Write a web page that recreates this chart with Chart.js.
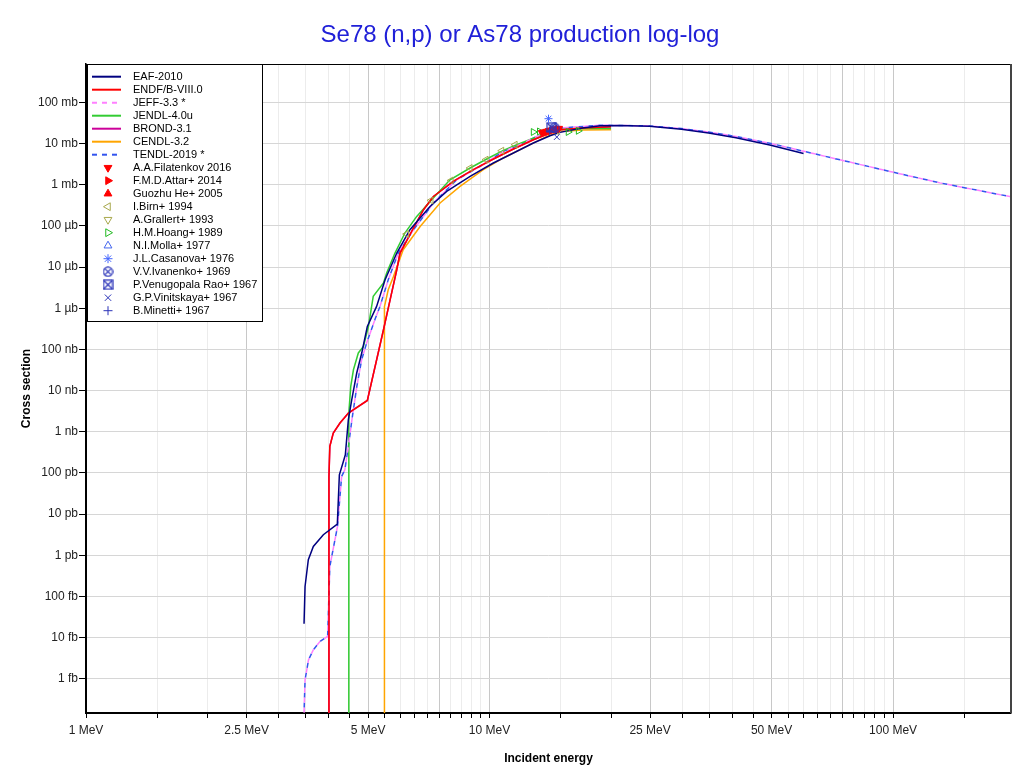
<!DOCTYPE html>
<html>
<head>
<meta http-equiv="Content-Type" content="text/html;charset=utf-8" />
<script src="https://cdn.jsdelivr.net/npm/chart.js@4.4.1/dist/chart.umd.min.js"></script>
<style>
  body { margin: 0; background: #fff; }
</style>
</head>
<body>
<canvas id="xs" width="1020" height="774"></canvas>
<script>
// energies in MeV, cross sections in mb

// EAF-2010
var eafE  = [3.47, 3.49, 3.556, 3.659, 3.874, 4.196, 4.245, 4.343, 4.392, 4.468, 4.555, 4.687, 4.823, 4.979,
             5.25, 5.51, 5.89, 6.35, 7.12, 7.83, 8.95, 10.22, 11.46, 12.84, 14.12, 14.95, 17, 18.8, 21,
             24.9, 29.9, 34.9, 40.8, 49.5, 60];
var eafXS = [2.16e-11, 1.74e-10, 7.76e-10, 1.63e-9, 3.14e-9, 5.71e-9, 9.0e-8, 1.9e-7, 2.76e-7, 1.95e-6, 5.98e-6, 2.67e-5, 8.15e-5, 3.61e-4,
             1.11e-3, 4.92e-3, 0.0219, 0.0807, 0.297, 0.689, 1.59, 3.37, 5.9, 10.3, 15.5, 18.7, 24, 27, 27.5,
             26.4, 22.2, 18.1, 13.9, 9.27, 5.77];

// ENDF/B-VIII.0
var endfE  = [4.0, 4.0, 4.02, 4.10, 4.26, 4.47, 4.98, 5.46, 5.67, 5.89, 6.0, 6.35, 6.86, 7.26, 8.13, 9.12,
              10.22, 11.46, 12.84, 14.12, 14.95, 17, 20];
var endfXS = [1e-15, 8.2e-8, 4.4e-7, 9.3e-7, 1.63e-6, 2.84e-6, 5.75e-6, 3.0e-4, 1.6e-3, 8.6e-3, 0.0219, 0.0611, 0.247, 0.52, 1.21, 2.32,
              4.22, 7.38, 12.4, 18.1, 21.7, 24, 25.6];

// JEFF-3.3 and TENDL-2019 (lie on top of each other)
var jeffE  = [3.47, 3.49, 3.56, 3.66, 3.80, 3.97, 4.02, 4.20, 4.30, 4.38, 4.47, 4.56, 4.69, 4.82, 4.96,
              5.20, 5.35, 5.61, 5.94, 6.48, 7.26, 8.29, 9.47, 10.82, 11.9, 13.09, 14.95, 18.8, 24.9,
              29.9, 34.9, 40.8, 49.5, 60.1, 75.9, 101.5, 130.6, 200];
var jeffXS = [1.5e-13, 9.4e-13, 2.88e-12, 5.05e-12, 8.0e-12, 1.07e-11, 5.33e-10, 5.0e-9, 8.2e-8, 1.19e-7, 4.4e-7, 1.95e-6, 1.26e-5, 5.6e-5, 1.43e-4,
              5.3e-4, 1.1e-3, 4.9e-3, 0.0219, 0.0807, 0.36, 1.32, 2.79, 6.45, 9.38, 14.9, 23.9, 27.9, 26.9,
              23.1, 19.1, 14.9, 10.2, 6.49, 3.79, 1.95, 1.11, 0.49];

// JENDL-4.0u
var jendlE  = [4.48, 4.48, 4.53, 4.60, 4.73, 4.87, 5.01, 5.15, 5.46, 5.56, 5.83, 6.17, 6.60, 7.19, 7.98,
               8.95, 9.84, 10.82, 11.68, 12.84, 13.86, 14.95, 17, 20];
var jendlXS = [1e-15, 2.84e-6, 1.26e-5, 3.2e-5, 8.2e-5, 1.18e-4, 3.6e-4, 1.94e-3, 4.1e-3, 7.2e-3, 0.0219, 0.0671, 0.17, 0.433, 1.32,
               2.55, 4.22, 6.82, 9.38, 13.5, 19.0, 22.0, 23.5, 23.1];

// BROND-3.1 (hidden under ENDF/B-VIII.0)
var brondE  = endfE;
var brondXS = endfXS;

// CENDL-3.2
var cendlE  = [5.49, 5.49, 5.61, 5.78, 6.11, 6.73, 7.54, 8.45, 9.65, 10.82, 12.36, 13.86, 14.95, 17, 20];
var cendlXS = [1e-15, 1.1e-3, 2.8e-3, 5.9e-3, 0.0264, 0.097, 0.36, 0.91, 2.32, 4.47, 8.53, 14.9, 19.7, 21.5, 21.7];

// experimental data
var filatE  = [13.47, 13.64, 13.82, 14.00, 14.19, 14.37, 14.55, 14.73, 14.87];
var filatXS = [18.5, 19.2, 19.8, 20.6, 21.3, 21.9, 22.5, 23.0, 23.4];
var attarE  = [14.8];
var attarXS = [22.5];
var heE     = [14.2, 14.6];
var heXS    = [21.0, 22.0];
var birnE   = [6.23, 7.16, 8.03, 8.95, 9.80, 10.72, 11.57];
var birnXS  = [0.0635, 0.416, 1.27, 2.55, 4.06, 6.71, 9.38];
var grallE  = [14.8];
var grallXS = [20.5];
var hoangE  = [12.84, 13.3, 15.67, 16.6];
var hoangXS = [19.1, 19.7, 19.1, 20.4];
var mollaE  = [14.7];
var mollaXS = [21.5];
var casaE   = [14.0];
var casaXS  = [40.2];
var ivanE   = [14.5];
var ivanXS  = [24];
var raoE    = [14.26];
var raoXS   = [24.7];
var viniE   = [14.68];
var viniXS  = [14.4];
var minE    = [14.1];
var minXS   = [20];

// axis ticks
var xTicks = [1, 1.5, 2, 2.5, 3, 3.5, 4, 4.5, 5, 5.5, 6, 6.5, 7, 7.5, 8, 8.5, 9, 9.5, 10,
              15, 20, 25, 30, 35, 40, 45, 50, 55, 60, 65, 70, 75, 80, 85, 90, 95, 100, 150];
var xMajor = [1, 2.5, 5, 7.5, 10, 25, 50, 75, 100];
var xLabeled = [1, 2.5, 5, 10, 25, 50, 100];
var yTicks = [1e-12, 1e-11, 1e-10, 1e-9, 1e-8, 1e-7, 1e-6, 1e-5, 1e-4, 1e-3, 1e-2, 1e-1, 1, 10, 100];
var yLabels = ['1 fb', '10 fb', '100 fb', '1 pb', '10 pb', '100 pb', '1 nb', '10 nb', '100 nb',
               '1 µb', '10 µb', '100 µb', '1 mb', '10 mb', '100 mb'];

var titleText = 'Se78 (n,p) or As78 production log-log';

function pts(e, s) {
    return e.map(function (v, i) { return { x: v, y: s[i] }; });
}

// little symbols for the circled and boxed crosses
function glyph(kind, color) {
    var c = document.createElement('canvas');
    c.width = 11; c.height = 11;
    var g = c.getContext('2d');
    g.strokeStyle = color;
    g.lineWidth = 1.2;
    if (kind == 'circle') {
        g.beginPath(); g.arc(5.5, 5.5, 4.6, 0, Math.PI * 2); g.stroke();
        g.beginPath(); g.moveTo(2.3, 2.3); g.lineTo(8.7, 8.7); g.moveTo(8.7, 2.3); g.lineTo(2.3, 8.7); g.stroke();
    } else {
        g.strokeRect(1, 1, 9, 9);
        g.beginPath(); g.moveTo(1, 1); g.lineTo(10, 10); g.moveTo(10, 1); g.lineTo(1, 10); g.stroke();
    }
    return c;
}

function curve(label, e, s, color, dash, order, dashOffset) {
    return {
        label: label, data: pts(e, s), showLine: true, borderColor: color, backgroundColor: color,
        borderWidth: 1.5, pointRadius: 0, borderDash: dash || [], borderDashOffset: dashOffset || 0, order: order
    };
}

function marks(label, e, s, style, color, fill, rot, order) {
    return {
        label: label, data: pts(e, s), showLine: false, pointStyle: style, rotation: rot || 0,
        borderColor: color, backgroundColor: fill, pointBorderWidth: 1, pointRadius: 4, order: order
    };
}

var olive = '#a8a84c';
var navyPt = '#2a33b8';

var datasets = [
    curve('EAF-2010', eafE, eafXS, '#000080', null, 20),
    curve('ENDF/B-VIII.0', endfE, endfXS, '#ff0000', null, 21),
    curve('JEFF-3.3 *', jeffE, jeffXS, '#ff80ff', [5, 5], 22),
    curve('JENDL-4.0u', jendlE, jendlXS, '#33cc33', null, 23),
    curve('BROND-3.1', brondE, brondXS, '#cc0099', null, 24),
    curve('CENDL-3.2', cendlE, cendlXS, '#ffa500', null, 25),
    curve('TENDL-2019 *', jeffE, jeffXS, '#3355ee', [5, 5], 26, 5),
    marks('A.A.Filatenkov 2016', filatE, filatXS, 'triangle', '#ff0000', '#ff0000', 180, 5),
    marks('F.M.D.Attar+ 2014', attarE, attarXS, 'triangle', '#ff0000', '#ff0000', 90, 6),
    marks('Guozhu He+ 2005', heE, heXS, 'triangle', '#ff0000', '#ff0000', 0, 7),
    marks('I.Birn+ 1994', birnE, birnXS, 'triangle', olive, 'rgba(0,0,0,0)', 270, 8),
    marks('A.Grallert+ 1993', grallE, grallXS, 'triangle', olive, 'rgba(0,0,0,0)', 180, 9),
    marks('H.M.Hoang+ 1989', hoangE, hoangXS, 'triangle', '#22bb22', 'rgba(0,0,0,0)', 90, 10),
    marks('N.I.Molla+ 1977', mollaE, mollaXS, 'triangle', '#4466ee', 'rgba(0,0,0,0)', 0, 11),
    marks('J.L.Casanova+ 1976', casaE, casaXS, 'star', '#4466ff', '#4466ff', 0, 1),
    marks('V.V.Ivanenko+ 1969', ivanE, ivanXS, glyph('circle', navyPt), navyPt, navyPt, 0, 2),
    marks('P.Venugopala Rao+ 1967', raoE, raoXS, glyph('box', navyPt), navyPt, navyPt, 0, 1),
    marks('G.P.Vinitskaya+ 1967', viniE, viniXS, 'crossRot', navyPt, navyPt, 0, 3),
    marks('B.Minetti+ 1967', minE, minXS, 'cross', navyPt, navyPt, 0, 4)
];

// title, plot frame and the legend box in the upper left corner
var legendBox = {
    id: 'legendBox',
    afterDraw: function (chart) {
        var ctx = chart.ctx, a = chart.chartArea;
        ctx.save();
        ctx.font = '24px "Liberation Sans", Arial, sans-serif';
        ctx.fillStyle = '#2020d8';
        ctx.textAlign = 'center';
        ctx.textBaseline = 'alphabetic';
        ctx.fillText(titleText, 520, 42);
        ctx.textAlign = 'left';

        ctx.strokeStyle = '#000';
        ctx.lineWidth = 1;
        ctx.strokeRect(a.left + 0.5, a.top + 0.5, a.right - a.left - 1, a.bottom - a.top);
        ctx.strokeStyle = '#444';
        ctx.lineWidth = 2;
        ctx.beginPath(); ctx.moveTo(a.right, a.top); ctx.lineTo(a.right, a.bottom); ctx.stroke();

        var x0 = a.left + 1, y0 = a.top, w = 175, h = 257;
        ctx.fillStyle = '#fff';
        ctx.fillRect(x0, y0, w, h);
        ctx.strokeStyle = '#000';
        ctx.lineWidth = 1;
        ctx.strokeRect(x0 + 0.5, y0 + 0.5, w, h);
        ctx.font = '11px "Liberation Sans", Arial, sans-serif';
        ctx.textBaseline = 'middle';
        chart.data.datasets.forEach(function (ds, i) {
            var y = y0 + 12.7 + i * 13;
            if (ds.showLine) {
                ctx.strokeStyle = ds.borderColor;
                ctx.lineWidth = 2;
                ctx.setLineDash(ds.borderDash);
                ctx.beginPath(); ctx.moveTo(x0 + 5, y); ctx.lineTo(x0 + 34, y); ctx.stroke();
                ctx.setLineDash([]);
            } else {
                ctx.strokeStyle = ds.borderColor;
                ctx.fillStyle = ds.backgroundColor;
                ctx.lineWidth = 1;
                Chart.helpers.drawPoint(ctx, { pointStyle: ds.pointStyle, rotation: ds.rotation, radius: 4.5, borderWidth: 1 }, x0 + 21, y);
            }
            ctx.fillStyle = '#000';
            ctx.fillText(ds.label, x0 + 46, y);
        });
        ctx.restore();
    }
};

Chart.defaults.font.family = '"Liberation Sans", Arial, sans-serif';
Chart.defaults.color = '#222';

var ctx = document.getElementById('xs').getContext('2d');
var chart = new Chart(ctx, {
    type: 'scatter',
    data: { datasets: datasets },
    options: {
        responsive: false,
        animation: false,
        devicePixelRatio: 1,
        layout: { padding: { left: 0, right: 9, top: 64, bottom: 0 } },
        elements: { line: { tension: 0 } },
        plugins: {
            legend: { display: false },
            tooltip: { enabled: false },
            title: { display: false }
        },
        scales: {
            x: {
                type: 'logarithmic',
                min: 1,
                max: 196,
                afterBuildTicks: function (s) { s.ticks = xTicks.map(function (v) { return { value: v }; }); },
                afterFit: function (s) { s.height = 61; },
                ticks: {
                    autoSkip: false, maxRotation: 0, padding: 5,
                    font: { size: 12 }, color: '#222',
                    callback: function (v) { return xLabeled.indexOf(v) >= 0 ? v + ' MeV' : ''; }
                },
                grid: {
                    color: function (c) { return xMajor.indexOf(c.tick.value) >= 0 ? '#c8c8c8' : '#ececec'; },
                    tickColor: '#000', tickLength: 5
                },
                border: { color: '#000', width: 1.5 },
                title: { display: true, text: 'Incident energy', font: { size: 12, weight: 'bold' }, color: '#000', padding: { top: 0, bottom: 8 } }
            },
            y: {
                type: 'logarithmic',
                min: 1.47e-13,
                max: 857,
                afterBuildTicks: function (s) { s.ticks = yTicks.map(function (v) { return { value: v }; }); },
                afterFit: function (s) { s.width = 86; },
                ticks: {
                    padding: 1, font: { size: 12 }, color: '#222',
                    callback: function (v, i) { return yLabels[i]; }
                },
                grid: { color: '#d6d6d6', tickColor: '#000', tickLength: 7 },
                border: { color: '#000', width: 1.5 },
                title: { display: true, text: 'Cross section', font: { size: 12, weight: 'bold' }, color: '#000', padding: { top: 19, bottom: 0 } }
            }
        }
    },
    plugins: [legendBox]
});
</script>
</body>
</html>
